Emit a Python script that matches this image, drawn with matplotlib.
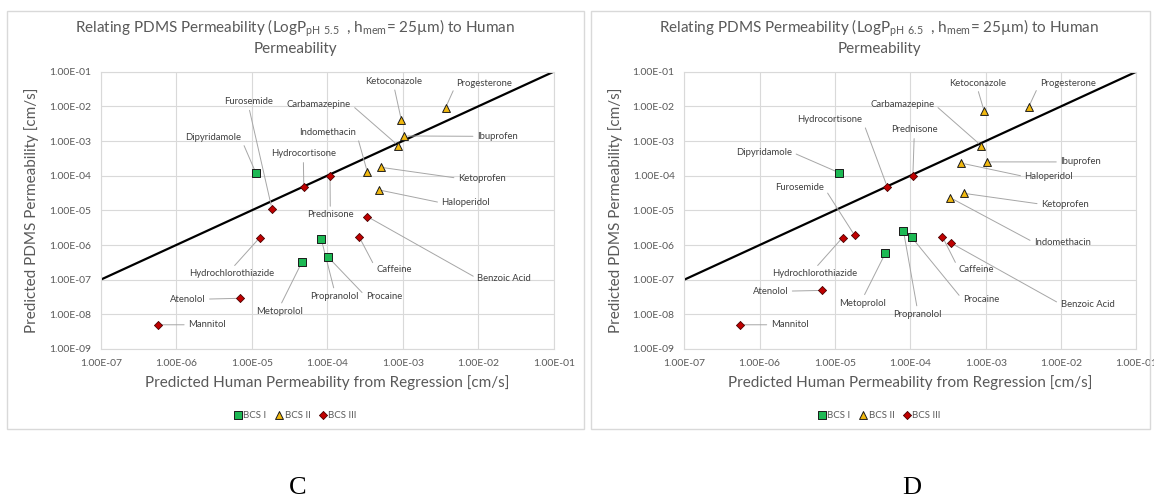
import numpy as np
import matplotlib
matplotlib.use('Agg')
import matplotlib.pyplot as plt
from matplotlib.patches import Rectangle
from matplotlib.ticker import FuncFormatter, LogLocator

plt.rcParams['font.family'] = ['Lato', 'DejaVu Sans']
plt.rcParams['mathtext.fontset'] = 'custom'
plt.rcParams['mathtext.rm'] = 'Lato'

# ---- data (C: LogP pH 5.5, D: LogP pH 6.5) ----
bcs1_names = ['Dipyridamole', 'Propranolol', 'Procaine', 'Metoprolol']
c_bcs1_x = [1.13e-5, 8.3e-5, 1.04e-4, 4.67e-5]
c_bcs1_y = [1.23e-4, 1.54e-6, 4.37e-7, 3.34e-7]
d_bcs1_x = [1.12e-5, 8.1e-5, 1.04e-4, 4.66e-5]
d_bcs1_y = [1.23e-4, 2.56e-6, 1.68e-6, 5.8e-7]

bcs2_names = ['Progesterone', 'Ketoconazole', 'Ibuprofen', 'Carbamazepine',
              'Indomethacin', 'Ketoprofen', 'Haloperidol']
c_bcs2_x = [3.7e-3, 9.6e-4, 1.05e-3, 8.7e-4, 3.4e-4, 5.1e-4, 4.8e-4]
c_bcs2_y = [9.2e-3, 4.0e-3, 1.4e-3, 7.4e-4, 1.29e-4, 1.75e-4, 3.9e-5]
d_bcs2_x = [3.7e-3, 9.55e-4, 1.04e-3, 8.7e-4, 3.41e-4, 5.1e-4, 4.76e-4]
d_bcs2_y = [9.4e-3, 7.2e-3, 2.5e-4, 7.4e-4, 2.3e-5, 3.1e-5, 2.3e-4]

bcs3_names = ['Hydrocortisone', 'Prednisone', 'Furosemide', 'Hydrochlorothiazide',
              'Caffeine', 'Benzoic Acid', 'Atenolol', 'Mannitol']
c_bcs3_x = [4.9e-5, 1.09e-4, 1.85e-5, 1.28e-5, 2.65e-4, 3.4e-4, 6.9e-6, 5.7e-7]
c_bcs3_y = [4.7e-5, 9.8e-5, 1.13e-5, 1.64e-6, 1.72e-6, 6.6e-6, 2.9e-8, 5.0e-9]
d_bcs3_x = [4.92e-5, 1.08e-4, 1.82e-5, 1.26e-5, 2.67e-4, 3.44e-4, 6.8e-6, 5.5e-7]
d_bcs3_y = [4.85e-5, 1.0e-4, 1.9e-6, 1.64e-6, 1.72e-6, 1.15e-6, 4.9e-8, 5.0e-9]

ph_c = '5.5'
ph_d = '6.5'

# label placement (log10 x, log10 y) -- layout only
labels_c = {
    'Ketoconazole': (-3.117, -1.279), 'Progesterone': (-1.917, -1.336),
    'Carbamazepine': (-4.111, -1.941), 'Furosemide': (-5.041, -1.865),
    'Dipyridamole': (-5.516, -2.912), 'Indomethacin': (-3.993, -2.748),
    'Ibuprofen': (-1.745, -2.864), 'Hydrocortisone': (-4.316, -3.373),
    'Ketoprofen': (-1.951, -4.074), 'Haloperidol': (-2.162, -4.785),
    'Prednisone': (-3.959, -5.131), 'Hydrochlorothiazide': (-5.271, -6.831),
    'Caffeine': (-3.117, -6.696), 'Benzoic Acid': (-1.657, -6.965),
    'Propranolol': (-3.900, -7.484), 'Procaine': (-3.249, -7.484),
    'Atenolol': (-5.849, -7.561), 'Metoprolol': (-4.630, -7.916),
    'Mannitol': (-5.590, -8.301),
}
labels_d = {
    'Ketoconazole': (-3.113, -1.327), 'Progesterone': (-1.913, -1.336),
    'Carbamazepine': (-4.109, -1.941), 'Hydrocortisone': (-5.071, -2.374),
    'Prednisone': (-3.948, -2.681), 'Dipyridamole': (-5.941, -3.325),
    'Ibuprofen': (-1.738, -3.603), 'Haloperidol': (-2.160, -4.026),
    'Furosemide': (-5.469, -4.343), 'Ketoprofen': (-1.947, -4.823),
    'Indomethacin': (-1.981, -5.928), 'Caffeine': (-3.122, -6.696),
    'Hydrochlorothiazide': (-5.275, -6.831), 'Atenolol': (-5.858, -7.330),
    'Procaine': (-3.064, -7.580), 'Benzoic Acid': (-1.650, -7.705),
    'Metoprolol': (-4.634, -7.676), 'Propranolol': (-3.905, -8.003),
    'Mannitol': (-5.601, -8.301),
}

W, H = 1154, 499
GREY = '#595959'
fig = plt.figure(figsize=(W / 100, H / 100), dpi=100)


def px(x0, y0, x1, y1):
    return [x0 / W, 1 - y1 / H, (x1 - x0) / W, (y1 - y0) / H]


def draw_panel(ax, ph, s1, s2, s3, labels, cx):
    ax.set_xscale('log')
    ax.set_yscale('log')
    ax.set_xlim(1e-7, 1e-1)
    ax.set_ylim(1e-9, 1e-1)
    ax.xaxis.set_major_locator(LogLocator(base=10, numticks=20))
    ax.yaxis.set_major_locator(LogLocator(base=10, numticks=20))
    ax.xaxis.set_minor_locator(plt.NullLocator())
    ax.yaxis.set_minor_locator(plt.NullLocator())
    fmt = FuncFormatter(lambda v, p: f'{v:.2E}')
    ax.xaxis.set_major_formatter(fmt)
    ax.yaxis.set_major_formatter(fmt)
    ax.tick_params(length=0, labelsize=7.5, labelcolor=GREY)
    ax.tick_params(axis='y', pad=7)
    ax.tick_params(axis='x', pad=7)
    ax.grid(True, color='#d9d9d9', lw=0.8)
    ax.set_axisbelow(True)
    for sp in ax.spines.values():
        sp.set_color('#d9d9d9')
        sp.set_linewidth(0.8)

    lim = np.array([1e-7, 1e-1])
    ax.plot(lim, lim, color='black', lw=1.6, zorder=2)

    h1 = ax.scatter(s1[0], s1[1], marker='s', s=32, c='#1db954',
                    edgecolors='#1a1a1a', linewidths=0.7, zorder=4)
    h2 = ax.scatter(s2[0], s2[1], marker='^', s=32, c='#f2b90f',
                    edgecolors='#1a1a1a', linewidths=0.7, zorder=4)
    h3 = ax.scatter(s3[0], s3[1], marker='D', s=17, c='#c00000',
                    edgecolors='#4a0000', linewidths=0.6, zorder=4)

    pts = {}
    for names, (xs, ys) in ((bcs1_names, s1), (bcs2_names, s2), (bcs3_names, s3)):
        for n, x, y in zip(names, xs, ys):
            pts[n] = (x, y)

    for name, (lx, ly) in labels.items():
        x, y = pts[name]
        dxp = (np.log10(x) - lx) * 75.5
        dyp = (np.log10(y) - ly) * 34.7
        if abs(dxp) > 0.8 * abs(dyp):
            rel = (1, 0.5) if dxp > 0 else (0, 0.5)
        else:
            rel = (0.5, 0) if dyp < 0 else (0.5, 1)
        ax.annotate(name, xy=(x, y), xytext=(10 ** lx, 10 ** ly),
                    ha='center', va='center', fontsize=6.8, color='#404040',
                    arrowprops=dict(arrowstyle='-', color='#a6a6a6', lw=0.7,
                                    relpos=rel, shrinkA=1, shrinkB=2.5),
                    zorder=3)

    ax.set_xlabel('Predicted Human Permeability from Regression [cm/s]',
                  fontsize=11, color=GREY, labelpad=5)
    ax.set_ylabel('Predicted PDMS Permeability [cm/s]',
                  fontsize=11, color=GREY, labelpad=7)

    fig.text(cx / W, 1 - 28 / H,
             r'Relating PDMS Permeability (LogP$_{\mathrm{pH\ ' + ph + r'}}$  , h$_{\mathrm{mem}}$= 25µm) to Human',
             ha='center', va='center', fontsize=11, color=GREY)
    fig.text(cx / W, 1 - 49 / H, 'Permeability',
             ha='center', va='center', fontsize=11, color=GREY)

    fig.legend([h1, h2, h3], ['BCS I', 'BCS II', 'BCS III'],
               loc='center', bbox_to_anchor=(cx / W, 1 - 415 / H), ncol=3,
               frameon=False, fontsize=7, labelcolor=GREY,
               handletextpad=0.05, columnspacing=0.8, handlelength=1.0,
               markerscale=1.0)


# panel frames
for x0, x1 in ((7, 584), (591, 1150)):
    b = px(x0, 11, x1, 429)
    fig.patches.append(Rectangle((b[0], b[1]), b[2], b[3], transform=fig.transFigure,
                                 fill=False, edgecolor='#d9d9d9', lw=1.0))

ax_c = fig.add_axes(px(100.7, 71.7, 553.7, 349))
draw_panel(ax_c, ph_c, (c_bcs1_x, c_bcs1_y), (c_bcs2_x, c_bcs2_y),
           (c_bcs3_x, c_bcs3_y), labels_c, 295)

ax_d = fig.add_axes(px(684.3, 71.7, 1136.4, 349))
draw_panel(ax_d, ph_d, (d_bcs1_x, d_bcs1_y), (d_bcs2_x, d_bcs2_y),
           (d_bcs3_x, d_bcs3_y), labels_d, 879)

fig.text(298 / W, 1 - 488 / H, 'C', ha='center', va='center',
         fontsize=19, family='Liberation Serif')
fig.text(912 / W, 1 - 488 / H, 'D', ha='center', va='center',
         fontsize=19, family='Liberation Serif')

fig.savefig('out.png', dpi=100, facecolor='white')
